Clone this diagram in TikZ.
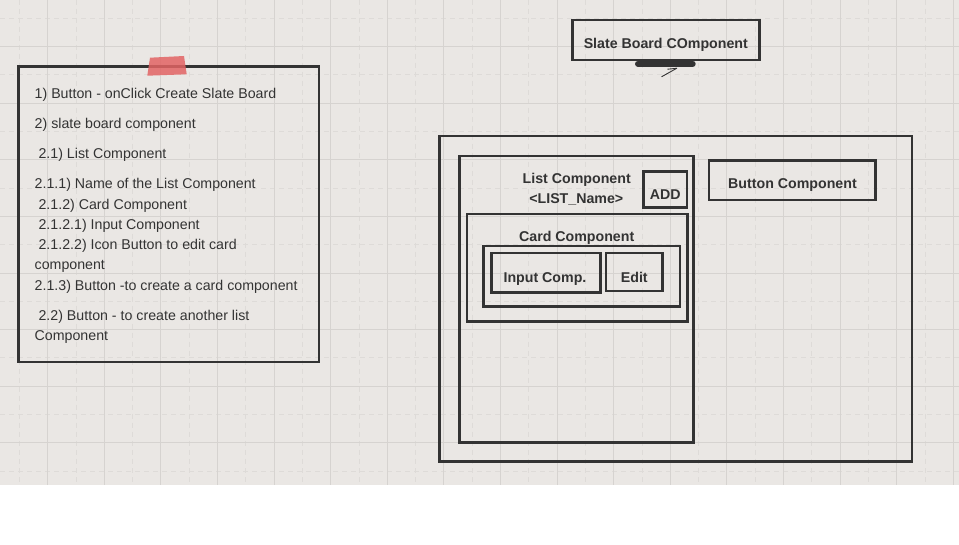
\documentclass[tikz,border=0pt]{standalone}
\usepackage{fontspec}
\setmainfont{Liberation Sans}
\usetikzlibrary{fit}
\definecolor{bg}{RGB}{234,231,228}
\definecolor{gridsolid}{RGB}{214,211,208}
\definecolor{griddash}{RGB}{222,219,216}
\definecolor{ink}{RGB}{51,51,51}
\definecolor{tape}{RGB}{226,100,100}
\begin{document}
\begin{tikzpicture}[x=1pt,y=-1pt,
  box/.style={draw=ink,line width=2.6pt,inner sep=0pt,rectangle},
  notetext/.style={anchor=base west,inner sep=0pt,text=ink,font=\fontsize{14.2}{17}\selectfont},
  lbl/.style={anchor=base,inner sep=0pt,text=ink,font=\fontsize{14.2}{17}\selectfont\bfseries},
  gsolid/.style={draw=gridsolid,line width=1pt},
  gdash/.style={draw=griddash,line width=1pt,dash pattern=on 5pt off 4pt}]
\useasboundingbox (0,0) rectangle (959,545);
% background and grid
\fill[bg] (0,0) rectangle (959,484.5);
\fill[white] (0,484.5) rectangle (959,545);
\foreach \i in {0,...,16} {
  \draw[gdash] ({19.4+56.6*\i},0) -- ({19.4+56.6*\i},484.5);
}
\foreach \i in {0,...,8} {
  \draw[gdash] (0,{18.4+56.6*\i}) -- (959,{18.4+56.6*\i});
}
\foreach \i in {0,...,16} {
  \draw[gsolid] ({47.7+56.6*\i},0) -- ({47.7+56.6*\i},484.5);
}
\foreach \i in {0,...,7} {
  \draw[gsolid] (0,{46.7+56.6*\i}) -- (959,{46.7+56.6*\i});
}
% note
\node[box,fit={(18.3,66.7) (319,362)}] (note) {};
\fill[tape,opacity=0.85] (150,57.7) -- (184,56) -- (186.7,74.3) -- (147.3,75.7) -- cycle;
\node[notetext] (l1) at (34.5,98.3) {1) Button - onClick Create Slate Board};
\node[notetext] (l2) at (34.5,128.3) {2) slate board component};
\node[notetext] (l3) at (38.4,158.3) {2.1) List Component};
\node[notetext] (l4) at (34.5,188.3) {2.1.1) Name of the List Component};
\node[notetext] (l5) at (38.4,209.3) {2.1.2) Card Component};
\node[notetext] (l6) at (38.4,229.5) {2.1.2.1) Input Component};
\node[notetext] (l7) at (38.4,249.7) {2.1.2.2) Icon Button to edit card};
\node[notetext] (l8) at (34.5,270) {component};
\node[notetext] (l9) at (34.5,290.5) {2.1.3) Button -to create a card component};
\node[notetext] (l10) at (38.4,320.3) {2.2) Button - to create another list};
\node[notetext] (l11) at (34.5,340.8) {Component};
% slate board title
\node[box,fit={(572.3,20) (759.3,60)}] (slate) {};
\node[lbl] (slatet) at (665.8,48.3) {Slate Board COmponent};
\draw[ink,line width=6pt,line cap=round] (638,63.7) -- (692.7,63.7);
\coordinate (ah) at (676.7,68.3);
\draw[ink,line width=0.9pt,line cap=round] (661.7,76.7) -- (ah);
\draw[ink,line width=0.9pt,line cap=round] (667.7,69.2) -- (ah);
% board
\node[box,fit={(439.3,136) (912,461.7)}] (board) {};
\node[box,fit={(459.5,156) (693.3,442.7)}] (list) {};
\node[lbl] (listt) at (576.7,183.3) {List Component};
\node[lbl] (listn) at (576.3,203.3) {<LIST\_Name>};
\node[box,fit={(643.3,171.3) (687,207.3)}] (add) {};
\node[lbl] (addt) at (665.3,200) {ADD};
\node[box,fit={(467,214) (687.3,321.7)}] (card) {};
\node[lbl] (cardt) at (576.7,241.7) {Card Component};
\node[box,fit={(483.3,246) (680,306.7)}] (inner) {};
\node[box,fit={(491.3,253) (600.3,292.7)}] (input) {};
\node[lbl] (inputt) at (545,282.3) {Input Comp.};
\node[box,fit={(606,253) (662.7,291)}] (edit) {};
\node[lbl] (editt) at (634.3,282.3) {Edit};
\node[box,fit={(709,160.7) (875.7,200)}] (button) {};
\node[lbl] (buttont) at (792.5,189) {Button Component};
\end{tikzpicture}
\end{document}
